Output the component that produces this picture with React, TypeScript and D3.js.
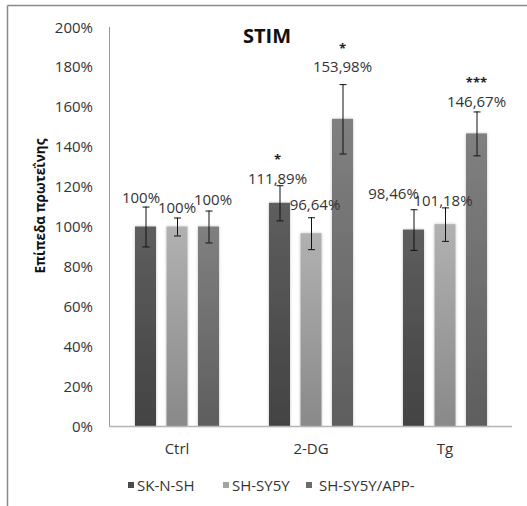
import React from "react";
import * as d3 from "d3";

// Protein levels (% of control) per treatment and cell line
const categories = ["Ctrl", "2-DG", "Tg"];
const seriesNames = ["SK-N-SH", "SH-SY5Y", "SH-SY5Y/APP-"];
const skNSH = [100, 111.89, 98.46];
const shSY5Y = [100, 96.64, 101.18];
const shSY5YApp = [100, 153.98, 146.67];
const skNSHErr = [10, 8.8, 10.2];
const shSY5YErr = [4.5, 8, 8.4];
const shSY5YAppErr = [8, 17.4, 11];
const valueLabels = [
  ["100%", "111,89%", "98,46%"],
  ["100%", "96,64%", "101,18%"],
  ["100%", "153,98%", "146,67%"],
];
const significance = [
  ["", "*", ""],
  ["", "", ""],
  ["", "*", "***"],
];
const yTicks = [0, 20, 40, 60, 80, 100, 120, 140, 160, 180, 200];

const values = [skNSH, shSY5Y, shSY5YApp];
const errors = [skNSHErr, shSY5YErr, shSY5YAppErr];

// Label placement nudges (px): centre of the label relative to bar centre / value position
const labelNudge: [number, number][][] = [
  [[-4.5, -29.5], [-2, -24], [-20, -36.5]],
  [[0, -19.5], [4, -29], [-2, -24]],
  [[4.5, -27.5], [0, -52], [0, -32]],
];
// Centre of the significance asterisks relative to bar centre / value position
const starNudge: [number, number][][] = [
  [[0, 0], [-2, -46], [0, 0]],
  [[0, 0], [0, 0], [0, 0]],
  [[0, 0], [0, -73], [0, -53]],
];

const gradients = [
  { id: "g0", top: "#5e5e5e", bottom: "#434343" },
  { id: "g1", top: "#b1b1b1", bottom: "#898989" },
  { id: "g2", top: "#808080", bottom: "#5e5e5e" },
];
const legendColors = ["#4a4a4a", "#a3a3a3", "#6c6c6c"];

const FONT = "'Open Sans', sans-serif";
const TEXT = "#333";

export default function App() {
  const W = 527;
  const H = 506;
  const plotLeft = 110;
  const plotRight = 512;
  const yTop = 27;
  const yBottom = 426;

  const y = d3.scaleLinear().domain([0, 200]).range([yBottom, yTop]);
  const x0 = d3.scaleBand().domain(categories).range([plotLeft, plotRight]).padding(0);
  const groupWidth = 94.5;
  const x1 = d3
    .scaleBand()
    .domain(seriesNames)
    .range([-groupWidth / 2, groupWidth / 2])
    .paddingInner(1 / 3)
    .paddingOuter(1 / 6);
  const bw = x1.bandwidth();
  const barCenter = (si: number, ci: number) =>
    x0(categories[ci])! + x0.bandwidth() / 2 + x1(seriesNames[si])! + bw / 2;

  const legendX = [128, 223, 306];

  return (
    <svg
      width={W}
      height={H}
      style={{ position: "absolute", left: 0, top: 0, background: "#fff" }}
      fontFamily={FONT}
    >
      <defs>
        {gradients.map((g) => (
          <linearGradient key={g.id} id={g.id} x1="0" y1="0" x2="0" y2="1">
            <stop offset="0%" stopColor={g.top} />
            <stop offset="100%" stopColor={g.bottom} />
          </linearGradient>
        ))}
        <filter id="glow" x="-30%" y="-5%" width="160%" height="110%">
          <feGaussianBlur in="SourceAlpha" stdDeviation="1.6" />
          <feComponentTransfer>
            <feFuncA type="linear" slope="0.25" />
          </feComponentTransfer>
          <feMerge>
            <feMergeNode />
            <feMergeNode in="SourceGraphic" />
          </feMerge>
        </filter>
      </defs>

      {/* chart frame */}
      <line x1={7.5} y1={5.5} x2={W} y2={5.5} stroke="#8a8a8a" strokeWidth={1.5} />
      <line x1={7.5} y1={5.5} x2={7.5} y2={H} stroke="#8a8a8a" strokeWidth={1.5} />

      {/* title */}
      <text x={267} y={43} textAnchor="middle" fontWeight="bold" fontSize={20} fill="#111">
        STIM
      </text>

      {/* y axis title */}
      <text
        transform={`translate(45,206) rotate(-90)`}
        textAnchor="middle"
        fontWeight="bold"
        fontSize={13.5}
        fill="#111"
      >
        Επίπεδα πρωτεΐνης
      </text>

      {/* y axis */}
      <line x1={plotLeft - 0.5} y1={yTop} x2={plotLeft - 0.5} y2={yBottom} stroke="#9a9a9a" strokeWidth={1} />
      {yTicks.map((t) => (
        <text key={t} x={93} y={y(t) + 5.5} textAnchor="end" fontSize={15} fill={TEXT}>
          {t}%
        </text>
      ))}

      {/* bars */}
      {values.map((vals, si) =>
        vals.map((v, ci) => {
          const cx = barCenter(si, ci);
          return (
            <rect
              key={`b${si}-${ci}`}
              x={cx - bw / 2}
              y={y(v)}
              width={bw}
              height={y(0) - y(v)}
              fill={`url(#${gradients[si].id})`}
              filter="url(#glow)"
            />
          );
        })
      )}

      {/* x axis */}
      <line x1={plotLeft - 1} y1={yBottom + 0.5} x2={plotRight} y2={yBottom + 0.5} stroke="#b4b4b4" strokeWidth={1.5} />
      {categories.map((c) => (
        <text key={c} x={x0(c)! + x0.bandwidth() / 2} y={yBottom + 27.5} textAnchor="middle" fontSize={15} fill={TEXT}>
          {c}
        </text>
      ))}

      {/* error bars */}
      {values.map((vals, si) =>
        vals.map((v, ci) => {
          const cx = barCenter(si, ci);
          const e = errors[si][ci];
          const yh = y(v + e);
          const yl = y(v - e);
          return (
            <g key={`e${si}-${ci}`} stroke="#111" strokeWidth={1}>
              <line x1={cx + 0.5} x2={cx + 0.5} y1={yh} y2={yl} />
              <line x1={cx - 3} x2={cx + 4} y1={yh + 0.5} y2={yh + 0.5} />
              <line x1={cx - 3} x2={cx + 4} y1={yl + 0.5} y2={yl + 0.5} />
            </g>
          );
        })
      )}

      {/* value labels and significance marks */}
      {values.map((vals, si) =>
        vals.map((v, ci) => {
          const cx = barCenter(si, ci);
          const [dx, dy] = labelNudge[si][ci];
          const star = significance[si][ci];
          const [sx, sy] = starNudge[si][ci];
          return (
            <g key={`l${si}-${ci}`}>
              <text x={cx + dx} y={y(v) + dy + 5.5} textAnchor="middle" fontSize={15} fill={TEXT}>
                {valueLabels[si][ci]}
              </text>
              {star && (
                <text x={cx + sx} y={y(v) + sy + 7} textAnchor="middle" fontSize={13} fontWeight="bold" fill="#222">
                  {star}
                </text>
              )}
            </g>
          );
        })
      )}

      {/* legend */}
      {seriesNames.map((s, i) => (
        <g key={s}>
          <rect x={legendX[i]} y={482} width={6} height={6} fill={legendColors[i]} />
          <text x={legendX[i] + (i === 2 ? 13 : 9)} y={490.5} fontSize={15} fill={TEXT}>
            {s}
          </text>
        </g>
      ))}
    </svg>
  );
}
